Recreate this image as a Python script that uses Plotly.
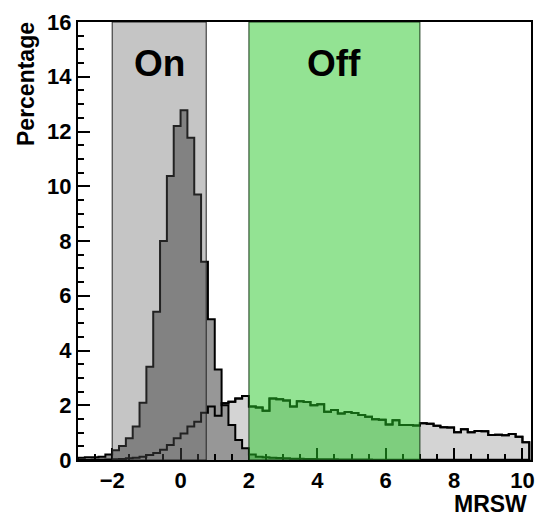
import numpy as np
import plotly.graph_objects as go

# ---- data ----
bin_start = -3.0
bin_width = 0.2

gamma_pct = [0.08, 0.10, 0.10, 0.12, 0.20, 0.36, 0.51, 0.79, 1.22, 2.09,
             3.41, 5.42, 8.00, 10.37, 12.20, 12.78, 11.77, 9.70, 7.24, 5.14,
             3.31, 2.00, 1.28, 0.73, 0.43, 0.20, 0.12, 0.10, 0.08, 0.07,
             0.06, 0.05, 0.05, 0.04, 0.04, 0.03, 0.03, 0.03, 0.02, 0.02,
             0.02, 0.02, 0.02, 0.01, 0.01, 0.01, 0.01, 0.01, 0.01, 0.01,
             0.01, 0.01, 0.01, 0.01, 0.01, 0.01, 0.01, 0.01, 0.01, 0.01,
             0.01, 0.01, 0.01, 0.01, 0.01, 0.01]

hadron_pct = [0.00, 0.00, 0.01, 0.01, 0.02, 0.03, 0.04, 0.06, 0.08, 0.12,
              0.18, 0.26, 0.37, 0.55, 0.79, 0.97, 1.22, 1.40, 1.73, 1.95,
              1.62, 2.07, 2.13, 2.25, 2.34, 1.95, 1.92, 1.80, 2.25, 2.22,
              2.17, 1.95, 2.15, 2.12, 2.00, 2.04, 1.76, 1.83, 1.70, 1.75,
              1.72, 1.64, 1.58, 1.49, 1.47, 1.30, 1.45, 1.28, 1.28, 1.26,
              1.34, 1.32, 1.25, 1.20, 1.19, 1.01, 1.12, 1.01, 1.06, 1.05,
              0.91, 0.92, 0.90, 0.95, 0.85, 0.65]

on_region = [-2.0, 0.75]
off_region = [2.0, 7.0]
x_ticks = [-2, 0, 2, 4, 6, 8, 10]
y_ticks = [0, 2, 4, 6, 8, 10, 12, 14, 16]

FONT = "Liberation Sans, Arial, Helvetica, sans-serif"


def step_xy(vals):
    edges = bin_start + bin_width * np.arange(len(vals) + 1)
    xs = [edges[0]] + list(edges)
    ys = [0.0] + list(vals) + [vals[-1]]
    xs = xs + [edges[-1]]
    ys = ys + [0.0]
    return xs, ys


fig = go.Figure()

hx, hy = step_xy(hadron_pct)
fig.add_trace(go.Scatter(x=hx, y=hy, mode="lines", line_shape="hv",
                         line=dict(color="black", width=2),
                         fill="tozeroy", fillcolor="#d4d4d4",
                         hoverinfo="skip", showlegend=False))

gx, gy = step_xy(gamma_pct)
fig.add_trace(go.Scatter(x=gx, y=gy, mode="lines", line_shape="hv",
                         line=dict(color="black", width=2),
                         fill="tozeroy", fillcolor="#979797",
                         hoverinfo="skip", showlegend=False))

# redraw hadron outline above gamma fill
fig.add_trace(go.Scatter(x=hx, y=hy, mode="lines", line_shape="hv",
                         line=dict(color="black", width=2),
                         hoverinfo="skip", showlegend=False))

fig.add_shape(type="rect", xref="x", yref="y",
              x0=on_region[0], x1=on_region[1], y0=0, y1=16,
              fillcolor="rgba(95,95,95,0.36)",
              line=dict(color="#222222", width=1), layer="above")
fig.add_shape(type="rect", xref="x", yref="y",
              x0=off_region[0], x1=off_region[1], y0=0, y1=16,
              fillcolor="rgba(40,200,40,0.5)",
              line=dict(color="#1a3a1a", width=1), layer="above")

fig.add_annotation(x=(on_region[0] + on_region[1]) / 2, y=14.5, text="On",
                   showarrow=False, xref="x", yref="y",
                   font=dict(family=FONT, size=37, color="black", weight="bold"))
fig.add_annotation(x=(off_region[0] + off_region[1]) / 2, y=14.5, text="Off",
                   showarrow=False, xref="x", yref="y",
                   font=dict(family=FONT, size=37, color="black", weight="bold"))

fig.add_annotation(x=1, y=0, xref="paper", yref="paper", text="MRSW",
                   xanchor="right", yanchor="top", yshift=-29, xshift=-2,
                   showarrow=False,
                   font=dict(family=FONT, size=23, color="black", weight="bold"))
fig.add_annotation(x=0, y=1, xref="paper", yref="paper", text="Percentage",
                   textangle=-90, xanchor="center", yanchor="top",
                   xshift=-52, yshift=2, showarrow=False,
                   font=dict(family=FONT, size=23, color="black", weight="bold"))

fig.update_xaxes(range=[-3, 10.25], tickvals=x_ticks,
                 ticks="inside", ticklen=12, tickwidth=1.5, tickcolor="black",
                 minor=dict(dtick=0.5, ticks="inside", ticklen=6, tickcolor="black"),
                 showline=True, linecolor="black", linewidth=2, mirror=True,
                 showgrid=False, zeroline=False,
                 tickfont=dict(family=FONT, size=22, color="black", weight="bold"))
fig.update_yaxes(range=[0, 16], tickvals=y_ticks,
                 ticks="inside", ticklen=12, tickwidth=1.5, tickcolor="black",
                 minor=dict(dtick=0.5, ticks="inside", ticklen=6, tickcolor="black"),
                 showline=True, linecolor="black", linewidth=2, mirror=True,
                 showgrid=False, zeroline=False,
                 tickfont=dict(family=FONT, size=22, color="black", weight="bold"))

fig.update_layout(width=543, height=517,
                  margin=dict(l=78, r=8, t=22, b=57),
                  plot_bgcolor="white", paper_bgcolor="white",
                  showlegend=False)

fig.write_html("out.html")
